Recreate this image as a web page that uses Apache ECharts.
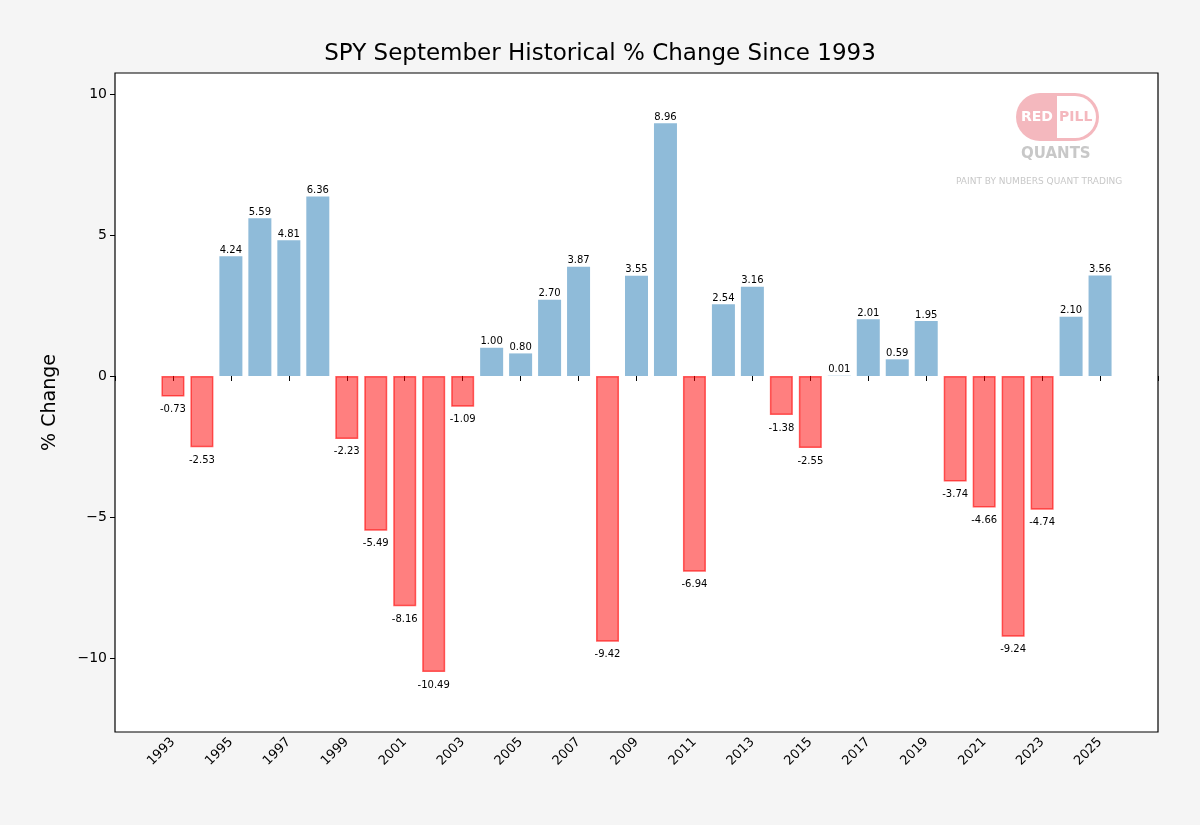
<!DOCTYPE html>
<html>
<head>
<meta charset="utf-8">
<script src="https://cdn.jsdelivr.net/npm/echarts@6/dist/echarts.min.js"></script>
<style>
  html, body { margin: 0; padding: 0; background: #f5f5f5; }
  #chart { width: 1200px; height: 825px; }
</style>
</head>
<body>
<div id="chart"></div>
<script>
var years = [];
for (var y = 1993; y <= 2025; y++) { years.push(y); }
var changes = [-0.73, -2.53, 4.24, 5.59, 4.81, 6.36, -2.23, -5.49, -8.16, -10.49,
    -1.09, 1.00, 0.80, 2.70, 3.87, -9.42, 3.55, 8.96, -6.94, 2.54,
    3.16, -1.38, -2.55, 0.01, 2.01, 0.59, 1.95, -3.74, -4.66, -9.24,
    -4.74, 2.10, 3.56];
var yTicks = [-10, -5, 0, 5, 10];

var chart = echarts.init(document.getElementById('chart'));

var barData = years.map(function (yr, i) {
    var v = changes[i];
    var neg = v < 0;
    return {
        value: [yr, v],
        itemStyle: neg ? { color: 'rgba(255,0,0,0.5)', borderColor: 'rgba(255,0,0,0.6)', borderWidth: 1.5 }
                       : { color: 'rgba(31,119,180,0.5)' },
        label: {
            show: true,
            position: neg ? 'bottom' : 'top',
            distance: neg ? 8 : 1,
            offset: [0, 0],
            formatter: v.toFixed(2),
            fontSize: 10,
            color: '#000',
            fontFamily: 'DejaVu Sans'
        }
    };
});

chart.setOption({
    backgroundColor: '#f5f5f5',
    animation: false,
    title: {
        text: 'SPY September Historical % Change Since 1993',
        left: 'center', top: 38,
        textStyle: { fontSize: 23, fontWeight: 'normal', color: '#000', fontFamily: 'DejaVu Sans' }
    },
    grid: { left: 115, right: 42, top: 73, bottom: 93, show: true, backgroundColor: '#fff', borderColor: '#000', borderWidth: 1.2 },
    xAxis: {
        type: 'value', min: 1991, max: 2027, interval: 2,
        splitLine: { show: false },
        axisLine: { show: false },
        axisTick: { show: true, length: 5, lineStyle: { color: '#000' } },
        axisLabel: {
            rotate: 45, fontSize: 13, color: '#000', fontFamily: 'DejaVu Sans',
            formatter: function (v) { return (v === 1991 || v === 2027) ? '' : String(v); }
        }
    },
    yAxis: {
        type: 'value', min: -12.62, max: 10.74,
        name: '% Change', nameLocation: 'middle', nameGap: 55,
        nameTextStyle: { fontSize: 19, color: '#000', fontFamily: 'DejaVu Sans' },
        splitLine: { show: false },
        axisLine: { show: false },
        axisTick: { show: true, length: 5, lineStyle: { color: '#000' }, customValues: yTicks },
        axisLabel: {
            fontSize: 14, color: '#000', fontFamily: 'DejaVu Sans', customValues: yTicks,
            formatter: function (v) { return v < 0 ? '\u2212' + Math.abs(v) : String(v); }
        }
    },
    series: [{
        type: 'bar',
        barWidth: 23,
        data: barData
    }],
    graphic: [
        { type: 'rect', shape: { x: 1016, y: 93, width: 83, height: 48, r: 24 }, style: { fill: '#f4b8be' } },
        { type: 'rect', shape: { x: 1057, y: 96, width: 39, height: 42, r: [0, 21, 21, 0] }, style: { fill: '#fff' } },
        { type: 'text', style: { x: 1021, y: 110, text: 'RED', fill: '#fff', font: 'bold 14px DejaVu Sans' } },
        { type: 'text', style: { x: 1059, y: 110, text: 'PILL', fill: '#f4b8be', font: 'bold 14px DejaVu Sans' } },
        { type: 'text', style: { x: 1021, y: 147, text: 'QUANTS', fill: '#c8c8c8', font: 'bold 15px DejaVu Sans' } },
        { type: 'text', style: { x: 956, y: 177, text: 'PAINT BY NUMBERS QUANT TRADING', fill: '#c8c8c8', font: '9px DejaVu Sans' } }
    ]
});
</script>
</body>
</html>
